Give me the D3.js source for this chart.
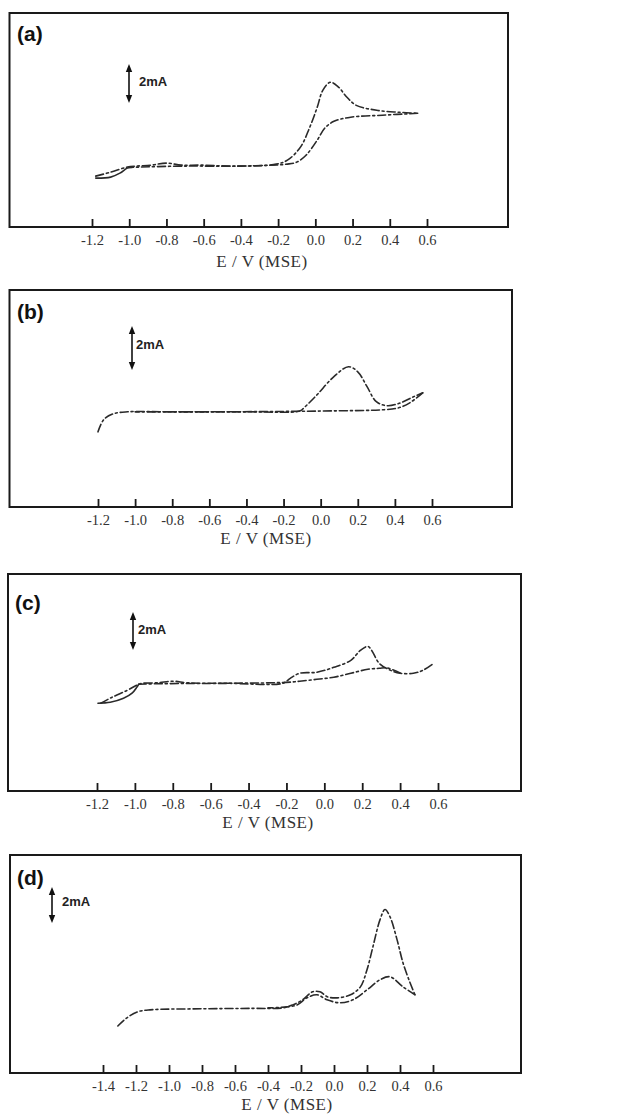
<!DOCTYPE html>
<html><head><meta charset="utf-8">
<script src="https://cdn.jsdelivr.net/npm/d3@7"></script>
<style>body{margin:0;background:#fff}</style>
</head><body>
<svg id="chart" width="623" height="1115"></svg>
<script>
// ---------- data (E in V vs MSE, I in mA) ----------
const ticksABC = [-1.2,-1.0,-0.8,-0.6,-0.4,-0.2,0.0,0.2,0.4,0.6];
const ticksD = [-1.4,-1.2,-1.0,-0.8,-0.6,-0.4,-0.2,0.0,0.2,0.4,0.6];
const panelLabels = ["(a)","(b)","(c)","(d)"];
const xTitle = "E / V (MSE)";
const scaleBarLabel = "2mA";
const scaleBarValue = 2;

const yDomA = [0, 13.0];
const yDomB = [0, 11.4];
const yDomC = [0, 13.6];
const yDomD = [0, 14.5];

const aForward = [[-1.18,3.09],[-1.10,3.33],[-1.01,3.64],[-0.96,3.70],[-0.88,3.76],[-0.80,3.88],[-0.72,3.76],[-0.62,3.76],[-0.44,3.70],[-0.21,3.82],[-0.15,4.06],[-0.08,4.85],[-0.03,6.06],[0.01,7.27],[0.04,8.30],[0.08,8.79],[0.12,8.55],[0.17,7.88],[0.22,7.39],[0.33,7.09],[0.45,6.97],[0.55,6.91]];
const aReverse = [[0.55,6.91],[0.36,6.79],[0.19,6.67],[0.10,6.42],[0.05,6.00],[0.01,5.27],[-0.05,4.36],[-0.10,3.94],[-0.15,3.82],[-0.40,3.70],[-0.70,3.70],[-0.95,3.64],[-0.99,3.62]];
const aReverseTail = [[-0.99,3.62],[-1.01,3.58],[-1.05,3.27],[-1.10,3.03],[-1.18,2.97]];

const bForward = [[-1.20,3.95],[-1.17,4.58],[-1.12,4.89],[-1.04,5.00],[-0.80,5.00],[-0.40,5.00],[-0.11,5.05],[-0.09,5.21],[-0.02,5.89],[0.07,6.84],[0.15,7.37],[0.20,7.10],[0.25,6.32],[0.30,5.53],[0.36,5.32],[0.43,5.47],[0.50,5.79],[0.55,6.00]];
const bReverse = [[0.55,6.00],[0.48,5.47],[0.42,5.21],[0.34,5.11],[0.07,5.05],[-0.20,5.02],[-0.60,5.00],[-1.00,5.00]];

const cForward = [[-1.18,5.50],[-1.12,5.88],[-1.04,6.31],[-0.99,6.63],[-0.96,6.75],[-0.88,6.78],[-0.80,6.88],[-0.72,6.78],[-0.50,6.75],[-0.22,6.75],[-0.18,7.06],[-0.13,7.38],[-0.04,7.44],[0.05,7.75],[0.14,8.19],[0.19,8.81],[0.23,9.06],[0.25,8.81],[0.29,8.00],[0.35,7.56],[0.40,7.38],[0.47,7.38],[0.52,7.56],[0.57,7.94]];
const cReverse = [[0.40,7.40],[0.33,7.72],[0.29,7.69],[0.23,7.63],[0.14,7.38],[0.05,7.13],[-0.04,7.00],[-0.13,6.88],[-0.20,6.81],[-0.50,6.75],[-0.90,6.72],[-0.98,6.69]];
const cReverseTail = [[-0.98,6.69],[-0.99,6.50],[-1.015,6.13],[-1.06,5.81],[-1.13,5.56],[-1.195,5.50]];

const dForward = [[-1.31,3.13],[-1.255,3.67],[-1.19,4.07],[-1.115,4.20],[-0.80,4.27],[-0.50,4.30],[-0.31,4.33],[-0.25,4.53],[-0.19,4.87],[-0.13,5.40],[-0.085,5.40],[-0.04,5.07],[0.02,5.00],[0.10,5.20],[0.16,5.73],[0.20,6.87],[0.236,8.40],[0.279,10.20],[0.309,10.87],[0.339,10.40],[0.382,8.87],[0.418,7.33],[0.461,6.00],[0.491,5.20]];
const dReverse = [[0.491,5.20],[0.418,5.73],[0.339,6.40],[0.279,6.20],[0.20,5.53],[0.115,4.87],[0.036,4.67],[-0.042,4.87],[-0.103,5.20],[-0.164,5.00],[-0.224,4.53],[-0.285,4.40],[-0.40,4.33]];

// ---------- layout (pixels) ----------
const layout = [
  {left:9.5, top:13, right:508, bottom:227, xr:[92,427],  dom:[-1.2,0.6], ticks:ticksABC, ydom:yDomA,
   lab:[17,41], bar:[129,67], barText:[139,86], titleX:262, titleDy:40, series:[[aForward,true],[aReverse,true],[aReverseTail,false]]},
  {left:9.5, top:290, right:512, bottom:507, xr:[98,432], dom:[-1.2,0.6], ticks:ticksABC, ydom:yDomB,
   lab:[17,319], bar:[132,329], barText:[136,349], titleX:266, titleDy:37, series:[[bForward,true],[bReverse,true]]},
  {left:8, top:574, right:521, bottom:791, xr:[97,438], dom:[-1.2,0.6], ticks:ticksABC, ydom:yDomC,
   lab:[15,610], bar:[133,615], barText:[138,634], titleX:268, titleDy:37, series:[[cForward,true],[cReverse,true],[cReverseTail,false]]},
  {left:10, top:855, right:521, bottom:1073, xr:[103,433], dom:[-1.4,0.6], ticks:ticksD, ydom:yDomD,
   lab:[17,885], bar:[52,890], barText:[62,906], titleX:287, titleDy:37, series:[[dForward,true],[dReverse,true]]}
];

const svg = d3.select("#chart");
const defs = svg.append("defs");
["up","down"].forEach(id=>{
  defs.append("marker").attr("id","arr-"+id).attr("viewBox","0 0 10 10")
    .attr("refX",5).attr("refY",5).attr("markerWidth",5).attr("markerHeight",5)
    .attr("orient","auto-start-reverse")
    .append("path").attr("d","M0,1 L10,5 L0,9 Z").attr("fill","#111");
});

layout.forEach((p,i)=>{
  const g = svg.append("g");
  const x = d3.scaleLinear().domain(p.dom).range(p.xr);
  const y = d3.scaleLinear().domain(p.ydom).range([p.bottom,p.top]);

  // frame
  g.append("rect").attr("x",p.left).attr("y",p.top)
    .attr("width",p.right-p.left).attr("height",p.bottom-p.top)
    .attr("fill","none").attr("stroke","#1a1a1a").attr("stroke-width",2);

  // x axis
  const ax = g.append("g").attr("transform",`translate(0,${p.bottom})`)
    .call(d3.axisBottom(x).tickValues(p.ticks).tickSizeInner(-8).tickSizeOuter(0).tickPadding(8)
      .tickFormat(d=>d.toFixed(1)));
  ax.select(".domain").remove();
  ax.selectAll(".tick line").attr("stroke","#1a1a1a").attr("stroke-width",1.8);
  ax.selectAll(".tick text").attr("fill","#333").style("font-family","'Liberation Serif','Times New Roman',serif").style("font-size","14.5px");

  g.append("text").attr("x",p.titleX).attr("y",p.bottom+p.titleDy).attr("text-anchor","middle")
    .style("font-family","'Liberation Serif','Times New Roman',serif").style("font-size","17px")
    .style("letter-spacing","0.5px").attr("fill","#333")
    .text(xTitle);

  // panel label
  g.append("text").attr("x",p.lab[0]).attr("y",p.lab[1])
    .style("font-family","'Liberation Sans',Arial,sans-serif").style("font-weight","bold").style("font-size","21px")
    .attr("fill","#111").text(panelLabels[i]);

  // 2 mA scale bar
  const len = y(0)-y(scaleBarValue);
  g.append("line").attr("x1",p.bar[0]).attr("x2",p.bar[0]).attr("y1",p.bar[1]+1).attr("y2",p.bar[1]+len-1)
    .attr("stroke","#111").attr("stroke-width",1.6)
    .attr("marker-start","url(#arr-up)").attr("marker-end","url(#arr-down)");
  g.append("text").attr("x",p.barText[0]).attr("y",p.barText[1])
    .style("font-family","'Liberation Sans',Arial,sans-serif").style("font-weight","bold").style("font-size","13px")
    .attr("fill","#222").text(scaleBarLabel);

  // curves
  const line = d3.line().x(d=>x(d[0])).y(d=>y(d[1])).curve(d3.curveCatmullRom.alpha(0.5));
  p.series.forEach(([data,dashed])=>{
    g.append("path").attr("d",line(data)).attr("fill","none")
      .attr("stroke","#2a2a2a").attr("stroke-width",1.6)
      .attr("stroke-dasharray",dashed?"8,3,2,3":null)
      .attr("stroke-linecap","round");
  });
});
</script>
</body></html>
